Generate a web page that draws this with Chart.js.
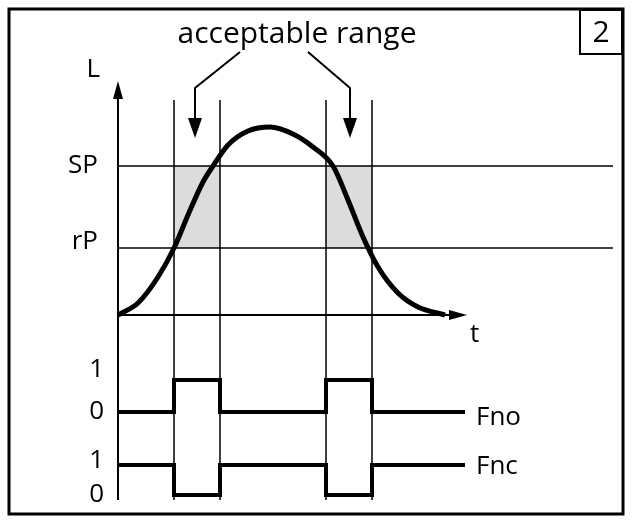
<!DOCTYPE html>
<html>
<head>
<meta charset="utf-8">
<script src="https://cdn.jsdelivr.net/npm/chart.js@4/dist/chart.umd.min.js"></script>
<style>
  html, body { margin: 0; padding: 0; background: #fff; }
  #wrap { width: 632px; height: 523px; }
</style>
</head>
<body>
<div id="wrap"><canvas id="diagram"></canvas></div>
<script>
// level curve L(t)
const curveT = [0, 2, 4, 5.6, 7, 8.5, 9.5, 11, 13, 15.2, 17.5, 19.5, 21.5, 23, 24.5, 26, 28, 30, 32.7];
const curveL = [0, 1.2, 3.8, 6.7, 10, 13.3, 14.9, 17, 18.4, 18.8, 18.1, 16.8, 14.9, 11.5, 7.8, 4.8, 2.2, 0.8, 0];
const SP = 14.9;
const rP = 6.7;
// acceptable ranges (switch times)
const rangeStart = [5.6, 20.8];
const rangeEnd = [10.2, 25.4];
const tEnd = 34.7;
// output levels on the same vertical scale
const fnoLow = -9.7, fnoHigh = -6.5;
const fncHigh = -15, fncLow = -18;

(function(){
    let datasets = [];

    // shaded acceptable ranges
    rangeStart.forEach(function(s, i){
        datasets.push({
            data: [{x: s, y: SP}, {x: rangeEnd[i], y: SP}],
            borderWidth: 0, pointRadius: 0,
            backgroundColor: '#dcdcdc',
            fill: {value: rP}
        });
    });

    // SP / rP lines
    [SP, rP].forEach(function(v){
        datasets.push({
            data: [{x: 0, y: v}, {x: 49.5, y: v}],
            borderColor: '#000', borderWidth: 1.5, pointRadius: 0
        });
    });

    // vertical switch lines
    rangeStart.concat(rangeEnd).forEach(function(s){
        datasets.push({
            data: [{x: s, y: 21.5}, {x: s, y: -18.5}],
            borderColor: '#000', borderWidth: 1.5, pointRadius: 0
        });
    });

    // axes
    datasets.push({data: [{x: 0, y: -18.5}, {x: 0, y: 23}], borderColor: '#000', borderWidth: 2, pointRadius: 0});
    datasets.push({data: [{x: 0, y: 0}, {x: 34.5, y: 0}], borderColor: '#000', borderWidth: 2, pointRadius: 0});

    // level curve
    datasets.push({
        data: curveT.map(function(t, i){ return {x: t, y: curveL[i]}; }),
        borderColor: '#000', borderWidth: 5, pointRadius: 0, cubicInterpolationMode: 'monotone'
    });

    // pulse outputs
    function pulse(base, active){
        let pts = [{x: 0, y: base}];
        rangeStart.forEach(function(s, i){
            pts.push({x: s, y: base}, {x: s, y: active}, {x: rangeEnd[i], y: active}, {x: rangeEnd[i], y: base});
        });
        pts.push({x: tEnd, y: base});
        return pts;
    }
    datasets.push({data: pulse(fnoLow, fnoHigh), borderColor: '#000', borderWidth: 4, pointRadius: 0});
    datasets.push({data: pulse(fncHigh, fncLow), borderColor: '#000', borderWidth: 4, pointRadius: 0});

    let decor = {
        id: 'decor',
        afterDatasetsDraw: function(chart){
            let c = chart.ctx, xs = chart.scales.x, ys = chart.scales.y;
            let px = function(v){ return xs.getPixelForValue(v); };
            let py = function(v){ return ys.getPixelForValue(v); };
            c.save();
            c.fillStyle = '#000'; c.strokeStyle = '#000';
            // frame
            c.lineWidth = 3;
            c.strokeRect(9, 9, 614, 505);
            c.lineWidth = 2;
            c.strokeRect(580, 10, 42, 44);
            function head(x, y, dir, w, l){
                c.beginPath();
                if(dir === 'up'){ c.moveTo(x, y); c.lineTo(x - w, y + l); c.lineTo(x + w, y + l); }
                if(dir === 'down'){ c.moveTo(x, y); c.lineTo(x - w, y - l); c.lineTo(x + w, y - l); }
                if(dir === 'right'){ c.moveTo(x, y); c.lineTo(x - l, y - w); c.lineTo(x - l, y + w); }
                c.closePath(); c.fill();
            }
            head(px(0), py(23) - 4, 'up', 5, 18);
            head(px(34.5) + 4, py(0), 'right', 5, 18);
            // arrows from label
            c.lineWidth = 2;
            c.beginPath();
            c.moveTo(240, 52); c.lineTo(px(7.7), 88); c.lineTo(px(7.7), 120); c.stroke();
            c.beginPath();
            c.moveTo(308, 52); c.lineTo(px(23.2), 88); c.lineTo(px(23.2), 120); c.stroke();
            head(px(7.7), 138, 'down', 7, 20);
            head(px(23.2), 138, 'down', 7, 20);
            // texts
            c.font = '30px "Open Sans"';
            c.textBaseline = 'middle';
            c.textAlign = 'center';
            c.fillText('acceptable range', 297, 34);
            c.fillText('2', 601, 33);
            c.font = '26px "Open Sans"';
            c.textAlign = 'right';
            c.fillText('SP', 98, py(SP));
            c.fillText('rP', 98, py(rP) - 6);
            c.fillText('L', 100, 70);
            c.fillText('1', 104, py(fnoHigh) - 10);
            c.fillText('0', 104, py(fnoLow));
            c.fillText('1', 104, py(fncHigh) - 4);
            c.fillText('0', 104, py(fncLow));
            c.textAlign = 'left';
            c.fillText('t', 470, 335);
            c.fillText('Fno', 476, py(fnoLow) + 6);
            c.fillText('Fnc', 476, py(fncHigh) + 2);
            c.restore();
        }
    };

    new Chart(document.getElementById('diagram'), {
        type: 'line',
        data: {datasets: datasets},
        options: {
            responsive: true,
            maintainAspectRatio: false,
            animation: false,
            layout: {padding: 0},
            plugins: {legend: {display: false}, tooltip: {enabled: false}, filler: {drawTime: 'beforeDatasetsDraw'}},
            scales: {
                x: {type: 'linear', min: -11.8, max: 51.4, display: false},
                y: {type: 'linear', min: -20.8, max: 31.5, display: false}
            }
        },
        plugins: [decor]
    });
})();
</script>
</body>
</html>
